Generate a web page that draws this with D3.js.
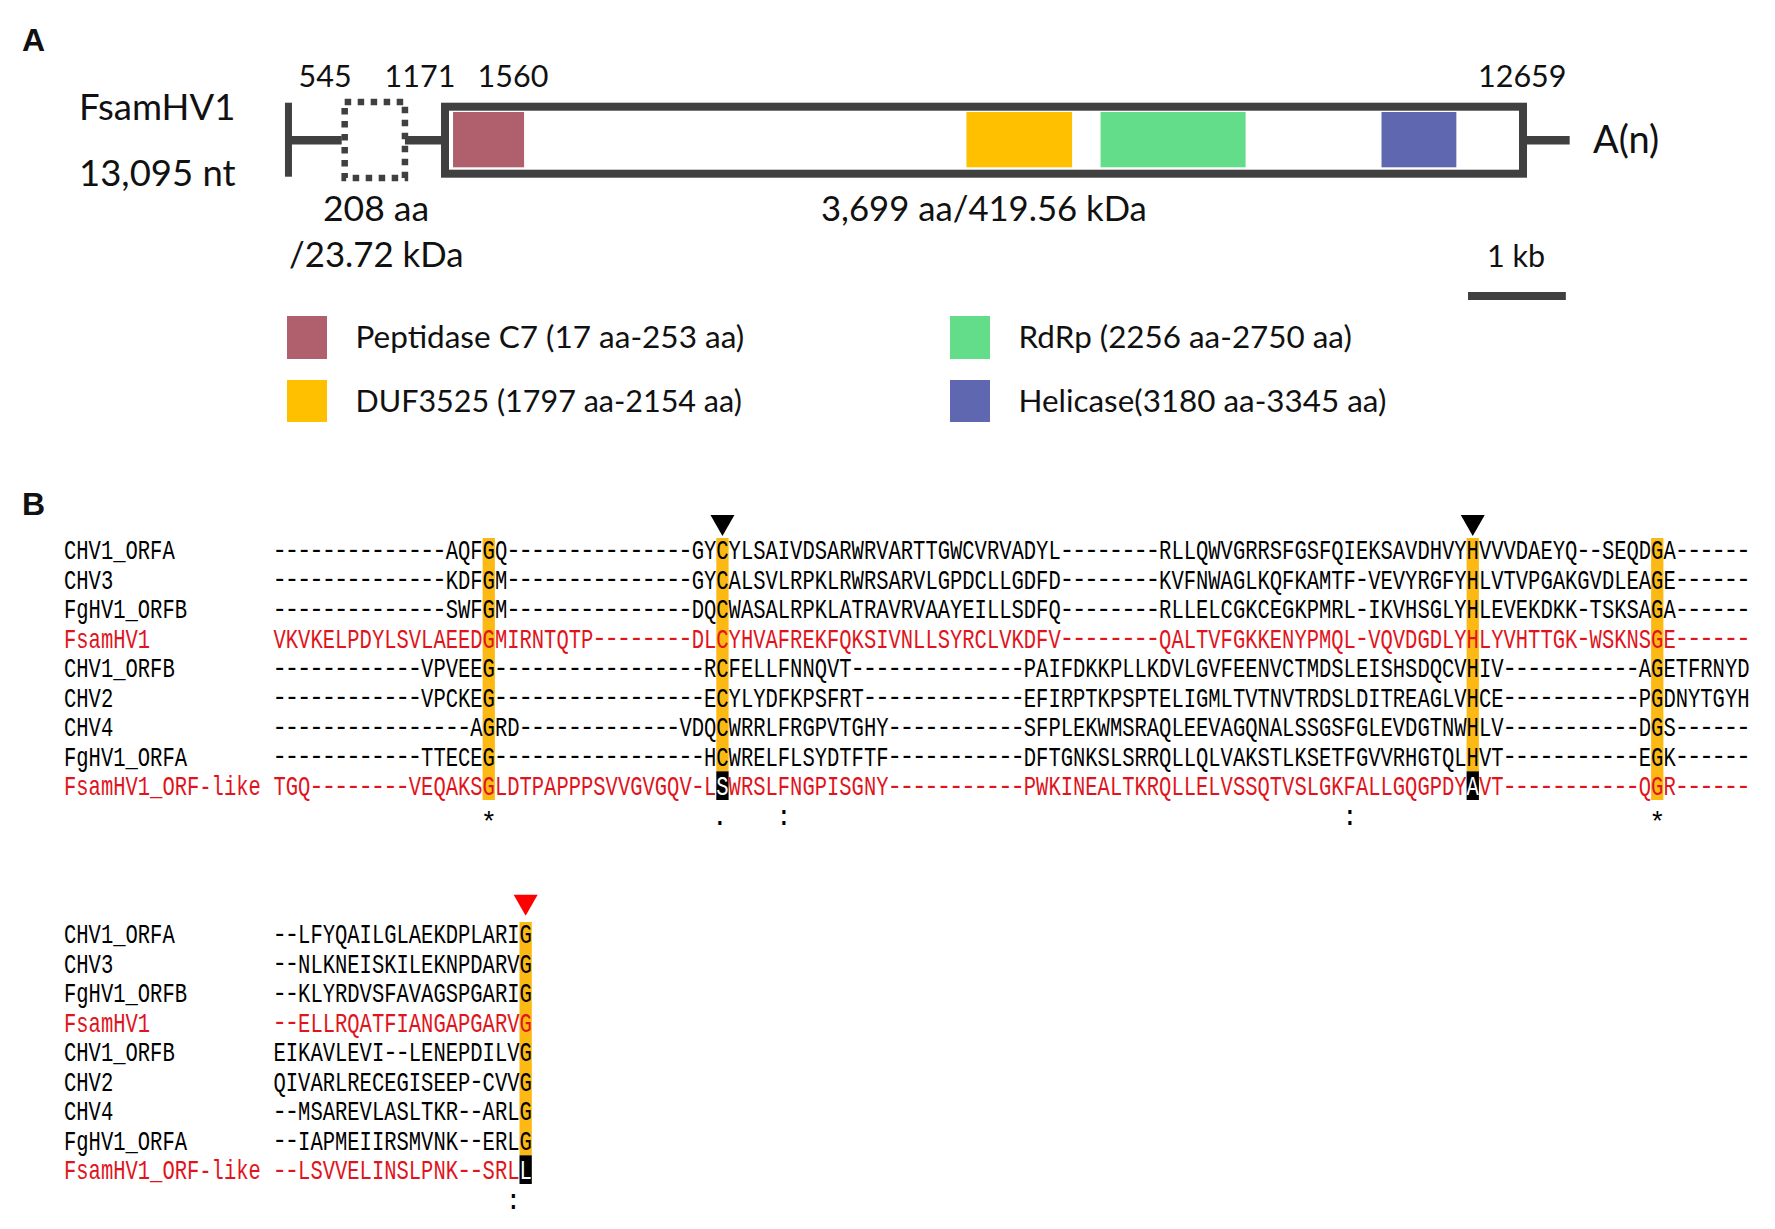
<!DOCTYPE html>
<html>
<head>
<meta charset="utf-8">
<script src="https://d3js.org/d3.v7.min.js"></script>
<style>
    body { margin: 0; background: #fff; }
    svg { display: block; }
    .ui { font-family: Lato, "Open Sans", sans-serif; fill: #111; }
    .panel { font-family: "Liberation Sans", sans-serif; font-weight: bold; fill: #111; }
    .seq { font-family: "Liberation Mono", monospace; font-size: 27px; }
</style>
</head>
<body>
<svg id="fig" width="1775" height="1229"></svg>
<script>
// panel A: genome map, nt positions
const orfStartNt = 1560, orfEndNt = 12659, smallOrfStartNt = 545, smallOrfEndNt = 1171, genomeEndNt = 13095;
const positionLabels = ["545", "1171", "1560", "12659"];

// domains: name, aa range from the legend, and the block extent as drawn (aa)
const domainNames = ["Peptidase C7 (17 aa-253 aa)", "DUF3525 (1797 aa-2154 aa)", "RdRp (2256 aa-2750 aa)", "Helicase(3180 aa-3345 aa)"];
const domainDrawnStart = [41, 1790, 2247, 3204];
const domainDrawnEnd = [283, 2150, 2741, 3459];
const domainColors = ["#b05f6d", "#ffc000", "#63dd8a", "#5f67b0"];

// panel B: alignment
const seqNames = ["CHV1_ORFA", "CHV3", "FgHV1_ORFB", "FsamHV1", "CHV1_ORFB", "CHV2", "CHV4", "FgHV1_ORFA", "FsamHV1_ORF-like"];
const redRows = ["FsamHV1", "FsamHV1_ORF-like"];

const block1 = [
    "--------------AQFGQ---------------GYCYLSAIVDSARWRVARTTGWCVRVADYL--------RLLQWVGRRSFGSFQIEKSAVDHVYHVVVDAEYQ--SEQDGA------",
    "--------------KDFGM---------------GYCALSVLRPKLRWRSARVLGPDCLLGDFD--------KVFNWAGLKQFKAMTF-VEVYRGFYHLVTVPGAKGVDLEAGE------",
    "--------------SWFGM---------------DQCWASALRPKLATRAVRVAAYEILLSDFQ--------RLLELCGKCEGKPMRL-IKVHSGLYHLEVEKDKK-TSKSAGA------",
    "VKVKELPDYLSVLAEEDGMIRNTQTP--------DLCYHVAFREKFQKSIVNLLSYRCLVKDFV--------QALTVFGKKENYPMQL-VQVDGDLYHLYVHTTGK-WSKNSGE------",
    "------------VPVEEG-----------------RCFELLFNNQVT--------------PAIFDKKPLLKDVLGVFEENVCTMDSLEISHSDQCVHIV-----------AGETFRNYD",
    "------------VPCKEG-----------------ECYLYDFKPSFRT-------------EFIRPTKPSPTELIGMLTVTNVTRDSLDITREAGLVHCE-----------PGDNYTGYH",
    "----------------AGRD-------------VDQCWRRLFRGPVTGHY-----------SFPLEKWMSRAQLEEVAGQNALSSGSFGLEVDGTNWHLV-----------DGS------",
    "------------TTECEG-----------------HCWRELFLSYDTFTF-----------DFTGNKSLSRRQLLQLVAKSTLKSETFGVVRHGTQLHVT-----------EGK------",
    "TGQ--------VEQAKSGLDTPAPPPSVVGVGQV-LSWRSLFNGPISGNY-----------PWKINEALTKRQLLELVSSQTVSLGKFALLGQGPDYAVT-----------QGR------"
];
const block1Highlight = [17, 36, 97, 112];
const block1Black = [36, 97];  // columns where the last row is a mismatch
const block1MarkCols = [17, 36, 41, 87, 112];
const block1Marks = ["*", ".", ":", ":", "*"];
const block1Arrows = [36, 97];

const block2 = [
    "--LFYQAILGLAEKDPLARIG",
    "--NLKNEISKILEKNPDARVG",
    "--KLYRDVSFAVAGSPGARIG",
    "--ELLRQATFIANGAPGARVG",
    "EIKAVLEVI--LENEPDILVG",
    "QIVARLRECEGISEEP-CVVG",
    "--MSAREVLASLTKR--ARLG",
    "--IAPMEIIRSMVNK--ERLG",
    "--LSVVELINSLPNK--SRLL"
];
const block2Highlight = [20];
const block2Black = [20];
const block2MarkCols = [19];
const block2Marks = [":"];
const block2Arrows = [20];

const config = {
    dark: "#404040",
    orange: "#fdb913",
    red: "#e0141c",
    cell: 12.3,
    seqX: 273.5,
    labelX: 64,
    rowStep: 29.5,
    glyphAdvance: 27 * 0.6
};

const svg = d3.select("#fig");

const label = (txt, x, y, size, cls) => svg.append("text")
    .attr("class", cls || "ui")
    .attr("x", x)
    .attr("y", y)
    .attr("font-size", size)
    .text(txt);

// panel letters
label("A", 22, 51, 32, "panel");
label("B", 22, 515, 32, "panel");

// ---- panel A ----
const nt = d3.scaleLinear().domain([orfStartNt, orfEndNt]).range([441, 1527]);
const aaToNt = aa => orfStartNt + 3 * aa;
const g = svg.append("g");
const midY = 140;

// backbone
g.selectAll("rect.stem")
    .data([[1, smallOrfStartNt], [smallOrfEndNt, orfStartNt], [orfEndNt, genomeEndNt]])
    .join("rect")
    .attr("class", "stem")
    .attr("x", d => nt(d[0]))
    .attr("y", midY - 4)
    .attr("width", d => nt(d[1]) - nt(d[0]))
    .attr("height", 8.5)
    .attr("fill", config.dark);
g.append("rect")
    .attr("x", nt(1) - 3.5)
    .attr("y", 102.7)
    .attr("width", 7)
    .attr("height", 74)
    .attr("fill", config.dark);

// small orf, dotted
g.append("rect")
    .attr("x", nt(smallOrfStartNt) + 3)
    .attr("y", 102)
    .attr("width", nt(smallOrfEndNt) - nt(smallOrfStartNt) - 1)
    .attr("height", 76)
    .attr("fill", "#fff")
    .attr("stroke", config.dark)
    .attr("stroke-width", 6.5)
    .attr("stroke-dasharray", "6.5 6.5");

// large orf
g.append("rect")
    .attr("x", nt(orfStartNt) + 4)
    .attr("y", 106.7)
    .attr("width", nt(orfEndNt) - nt(orfStartNt) - 8)
    .attr("height", 67)
    .attr("fill", "#fff")
    .attr("stroke", config.dark)
    .attr("stroke-width", 8);

g.selectAll("rect.domain")
    .data(domainNames)
    .join("rect")
    .attr("class", "domain")
    .attr("x", (d, i) => nt(aaToNt(domainDrawnStart[i])))
    .attr("y", 112)
    .attr("width", (d, i) => nt(aaToNt(domainDrawnEnd[i])) - nt(aaToNt(domainDrawnStart[i])))
    .attr("height", 55.3)
    .attr("fill", (d, i) => domainColors[i]);

// scale bar = 1 kb on the nt scale
g.append("rect")
    .attr("x", 1468)
    .attr("y", 292)
    .attr("width", nt(1000) - nt(0))
    .attr("height", 8)
    .attr("fill", config.dark);

const posX = [298.5, 384.6, 477.6, 1478];
positionLabels.forEach((p, i) => label(p, posX[i], 87, 30.5));
label("FsamHV1", 79, 119.5, 36.5);
label("13,095 nt", 79, 186, 36.5);
label("208 aa", 323, 220.7, 35.5);
label("/23.72 kDa", 289, 266.7, 34.8);
label("3,699 aa/419.56 kDa", 821, 220.7, 34.7);
label("A(n)", 1593, 152.7, 38);
label("1 kb", 1487, 267, 30.5);

// legend
const legendX = [287, 287, 950, 950];
const legendY = [316, 380, 316, 380];
const legendSize = [31.5, 30.5, 31.4, 31.4];
domainNames.forEach((d, i) => {
    g.append("rect")
        .attr("x", legendX[i])
        .attr("y", legendY[i])
        .attr("width", 40)
        .attr("height", i % 2 ? 42 : 43)
        .attr("fill", domainColors[i]);
    label(d, legendX[i] + 68.5, legendY[i] + 32, legendSize[i]);
});

// ---- panel B ----
const squeeze = config.cell / config.glyphAdvance;
const dashScale = 0.92;
// advance of a dash cut back to one cell, so the long dash stays inside the grid
const dashSpacing = config.cell / dashScale - config.glyphAdvance;

const drawGlyph = (sel, ch, cx, y, color) => {
    if (ch === "-") {
        sel.append("text")
            .attr("class", "seq")
            .attr("transform", `translate(${cx - config.glyphAdvance * dashScale / 2},${y - 1.5}) scale(${dashScale},1)`)
            .style("letter-spacing", dashSpacing + "px")
            .attr("fill", color)
            .text(ch);
    } else {
        sel.append("text")
            .attr("class", "seq")
            .attr("text-anchor", "middle")
            .attr("transform", `translate(${cx},${y}) scale(${squeeze},1)`)
            .attr("fill", color)
            .text(ch);
    }
};

const drawBlock = (rows, top, highlight, black, markCols, marks, arrows, arrowColor, arrowLift) => {
    const nCol = rows[0].length;
    const x = d3.scaleBand()
        .domain(d3.range(nCol))
        .range([config.seqX, config.seqX + nCol * config.cell]);
    const y = d3.scalePoint()
        .domain(seqNames)
        .range([top, top + config.rowStep * (seqNames.length - 1)]);
    const gb = svg.append("g");
    const lastBase = y(seqNames[seqNames.length - 1]);

    // highlight columns, black cell for the mismatch
    highlight.forEach(c => {
        const end = black.includes(c) ? lastBase - 24 : lastBase + 4.7;
        gb.append("rect")
            .attr("x", x(c))
            .attr("y", top - 21.3)
            .attr("width", x.bandwidth())
            .attr("height", end - top + 21.3)
            .attr("fill", config.orange);
    });
    black.forEach(c => {
        gb.append("rect")
            .attr("x", x(c))
            .attr("y", lastBase - 24)
            .attr("width", x.bandwidth())
            .attr("height", 28.7)
            .attr("fill", "#000");
    });

    // arrow heads over the catalytic columns
    arrows.forEach(c => {
        const cx = x(c) + x.bandwidth() / 2;
        gb.append("path")
            .attr("d", d3.line()([[cx - 12, top - arrowLift - 21], [cx + 12, top - arrowLift - 21], [cx, top - arrowLift]]) + "Z")
            .attr("fill", arrowColor);
    });

    seqNames.forEach((name, r) => {
        const color = redRows.includes(name) ? config.red : "#000";
        // row name, whole word on the same cell width
        gb.append("text")
            .attr("class", "seq")
            .attr("transform", `translate(${config.labelX},${y(name)}) scale(${squeeze},1)`)
            .attr("fill", color)
            .text(name);
        // residues, one glyph per column
        rows[r].split("").forEach((ch, c) => {
            const isBlack = r === seqNames.length - 1 && black.includes(c);
            drawGlyph(gb, ch, x(c) + x.bandwidth() / 2, y(name), isBlack ? "#fff" : color);
        });
    });

    // conservation marks
    markCols.forEach((c, i) => {
        gb.append("text")
            .attr("class", "seq")
            .attr("text-anchor", "middle")
            .attr("x", x(c) + x.bandwidth() / 2 - (marks[i] === "." ? 2.5 : 0))
            .attr("y", lastBase + config.rowStep + (marks[i] === "*" ? 6 : 0))
            .attr("fill", "#000")
            .text(marks[i]);
    });
};

drawBlock(block1, 559.3, block1Highlight, block1Black, block1MarkCols, block1Marks, block1Arrows, "#000", 23.3);
drawBlock(block2, 943.3, block2Highlight, block2Black, block2MarkCols, block2Marks, block2Arrows, "#f00", 27.6);
</script>
</body>
</html>
